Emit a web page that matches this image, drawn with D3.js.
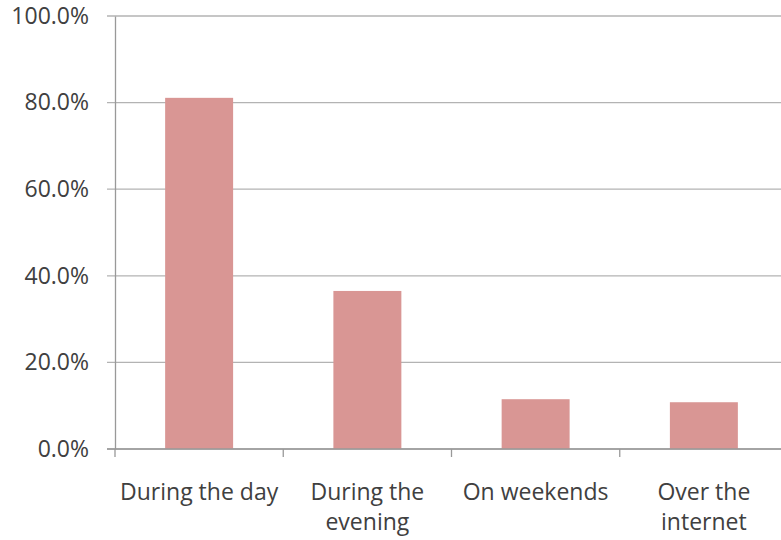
<!DOCTYPE html>
<html>
<head>
<meta charset="utf-8">
<script src="https://cdn.jsdelivr.net/npm/d3@7"></script>
<style>
  html, body { margin: 0; padding: 0; background: #fff; }
  svg { display: block; }
</style>
</head>
<body>
<div id="chart"></div>
<script>
// values
var categories = ["During the day", "During the evening", "On weekends", "Over the internet"];
var labelLines = [["During the day"], ["During the", "evening"], ["On weekends"], ["Over the", "internet"]];
var shares = [0.811, 0.365, 0.115, 0.108];
var yTicks = [0, 0.2, 0.4, 0.6, 0.8, 1.0];

var width = 781, height = 540;
var margin = { top: 16, right: -7, bottom: 91, left: 115 };

var svg = d3.select("#chart").append("svg")
  .attr("width", width)
  .attr("height", height);

var x = d3.scaleBand()
  .domain(categories)
  .range([margin.left, width - margin.right])
  .paddingInner(0.596)
  .paddingOuter(0.298);

var y = d3.scaleLinear()
  .domain([0, 1])
  .range([height - margin.bottom, margin.top]);

var fontFamily = "'Open Sans', Lato, sans-serif";
var fontSize = "23px";

// gridlines
svg.append("g")
  .attr("stroke", "#b3b3b3")
  .attr("stroke-width", 1.3)
  .selectAll("line")
  .data(yTicks)
  .enter().append("line")
  .attr("x1", margin.left - 8)
  .attr("x2", width)
  .attr("y1", function(d) { return y(d); })
  .attr("y2", function(d) { return y(d); });

// bars
svg.append("g")
  .attr("fill", "#d99694")
  .selectAll("rect")
  .data(shares)
  .enter().append("rect")
  .attr("x", function(d, i) { return x(categories[i]); })
  .attr("y", function(d) { return y(d); })
  .attr("width", x.bandwidth())
  .attr("height", function(d) { return y(0) - y(d); });

// y axis
var yAxis = svg.append("g")
  .attr("transform", "translate(" + margin.left + ",0)")
  .call(d3.axisLeft(y).tickValues(yTicks).tickFormat(d3.format(".1%")).tickSize(0).tickPadding(26));
yAxis.select(".domain").attr("stroke", "#999").attr("stroke-width", 1.3);
yAxis.selectAll("text")
  .attr("fill", "#404040")
  .style("font-family", fontFamily)
  .style("font-size", fontSize);

// x axis: category boundary ticks
var step = x.step();
var bounds = d3.range(categories.length + 1).map(function(i) {
  return x(categories[0]) - (step - x.bandwidth()) / 2 + i * step;
});
svg.append("line")
  .attr("x1", margin.left - 8)
  .attr("x2", width)
  .attr("y1", y(0)).attr("y2", y(0))
  .attr("stroke", "#999").attr("stroke-width", 1.3);
svg.append("g")
  .attr("stroke", "#999")
  .attr("stroke-width", 1.3)
  .selectAll("line")
  .data(bounds)
  .enter().append("line")
  .attr("x1", function(d) { return d; })
  .attr("x2", function(d) { return d; })
  .attr("y1", y(0))
  .attr("y2", y(0) + 8);

// category labels
var labels = svg.append("g")
  .attr("fill", "#404040")
  .style("font-family", fontFamily)
  .style("font-size", fontSize)
  .attr("text-anchor", "middle")
  .selectAll("text")
  .data(categories)
  .enter().append("text")
  .attr("x", function(d) { return x(d) + x.bandwidth() / 2; })
  .attr("y", y(0) + 51);

labels.selectAll("tspan")
  .data(function(d, i) { return labelLines[i]; })
  .enter().append("tspan")
  .attr("x", function() { return d3.select(this.parentNode).attr("x"); })
  .attr("dy", function(d, j) { return j === 0 ? 0 : 30; })
  .text(function(d) { return d; });
</script>
</body>
</html>
